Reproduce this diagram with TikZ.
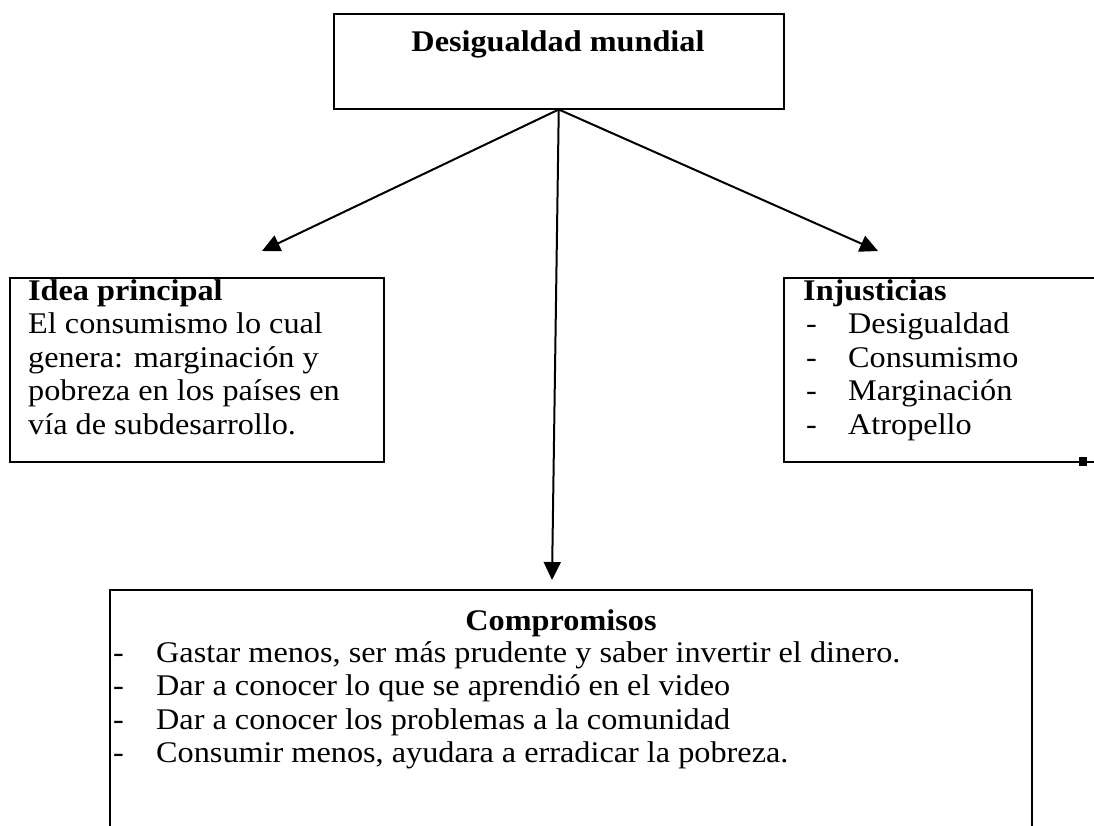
\documentclass[tikz,border=0pt]{standalone}
\usepackage{fontspec}
\setmainfont{Liberation Serif}[FakeStretch=1.075]
\usetikzlibrary{arrows.meta,positioning}

\tikzset{
  box/.style={draw, line width=1.5pt, rectangle, anchor=north west, inner sep=0pt},
  txt/.style={anchor=base west, inner sep=0pt, font=\fontsize{30}{33}\selectfont},
  head/.style={txt, font=\fontsize{30}{33}\selectfont\bfseries},
  link/.style={line width=2pt, -{Triangle[length=18pt,width=17pt]}}
}

\begin{document}
\begin{tikzpicture}[x=1pt, y=-1pt]
    \useasboundingbox (0,0) rectangle (1094,825);

    % Top box
    \node[box, minimum width=450, minimum height=95] (top) at (333,13) {};
    \node[head, anchor=base] (title) at (558,51) {Desigualdad mundial};

    % Left box: main idea
    \node[box, minimum width=374, minimum height=184] (idea) at (9,277) {};
    \node[head] (ideahead) at (28,300) {Idea principal};
    \foreach \y/\txt [count=\i] in {333.5/El consumismo lo cual, 367/{genera: marginación y}, 400.5/pobreza en los países en, 434/vía de subdesarrollo.}
        \node[txt] (idea\i) at (28,\y) {\txt};

    % Right box: injustices (cut off at the right)
    \node[box, minimum width=330, minimum height=184] (injust) at (783,277) {};
    \node[head] (injusthead) at (803,300) {Injusticias};
    \foreach \y/\txt [count=\i] in {333.5/Desigualdad, 367/Consumismo, 400.5/Marginación, 434/Atropello} {
        \node[txt] (dashR\i) at (806,\y) {-};
        \node[txt] (injust\i) at (848,\y) {\txt};
    }
    \fill (1079,457) rectangle (1087,466);

    % Bottom box: commitments (cut off at the bottom)
    \node[box, minimum width=922, minimum height=260] (comp) at (109,589) {};
    \node[head, anchor=base] (comphead) at (561,630) {Compromisos};
    \foreach \y/\txt [count=\i] in {662/{Gastar menos, ser más prudente y saber invertir el dinero.}, 695/Dar a conocer lo que se aprendió en el video, 729/Dar a conocer los problemas a la comunidad, 762/{Consumir menos, ayudara a erradicar la pobreza.}} {
        \node[txt] (dashB\i) at (113,\y) {-};
        \node[txt] (comp\i) at (156,\y) {\txt};
    }

    % Arrows
    \coordinate (tipL) at (262,251);
    \coordinate (tipR) at (878,251);
    \coordinate (tipD) at (552,580);
    \draw[link] (top.south) -- (tipL);
    \draw[link] (top.south) -- (tipR);
    \draw[link] (top.south) -- (tipD);
\end{tikzpicture}
\end{document}
